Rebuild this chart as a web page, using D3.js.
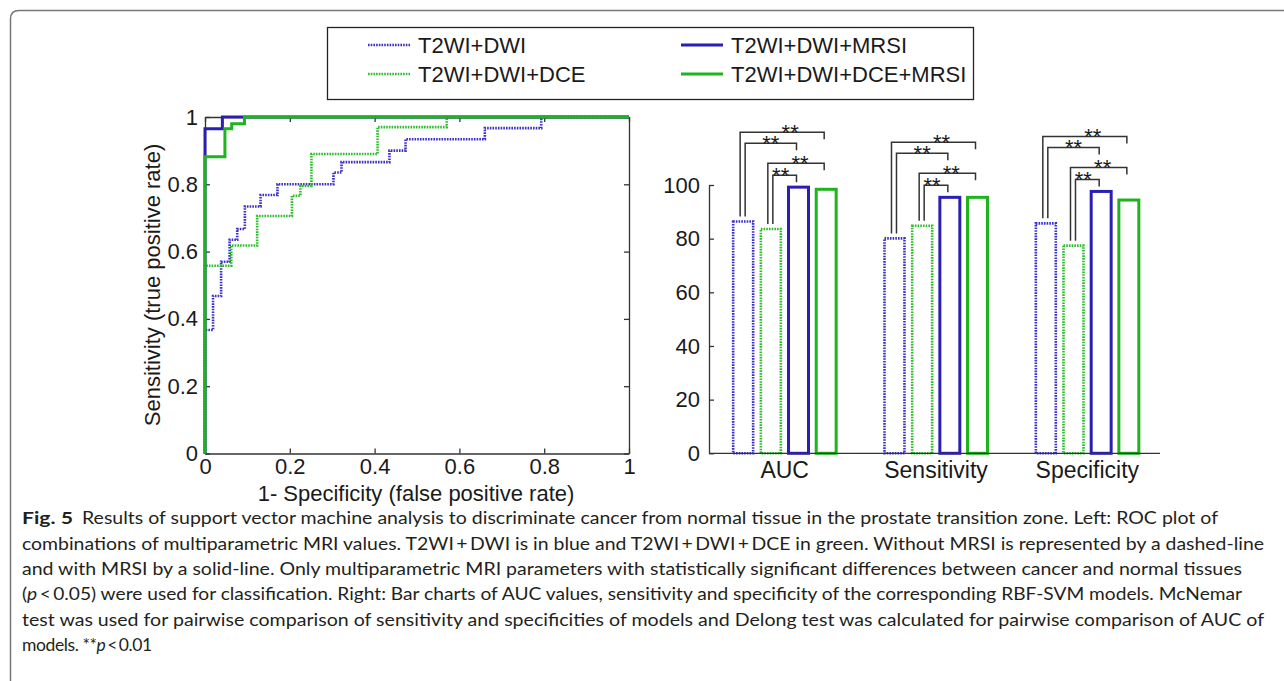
<!DOCTYPE html>
<html>
<head>
<meta charset="utf-8">
<script src="https://cdn.jsdelivr.net/npm/d3@7"></script>
<style>
  body { margin: 0; background: #fff; }
  svg text { font-family: "Liberation Sans", Arial, sans-serif; fill: #1a1a1a; }
  .caption text { font-family: Lato, "Open Sans", sans-serif; fill: #231f20; }
</style>
</head>
<body>
<svg id="fig" width="1284" height="681"></svg>
<script>
// ROC curves (1-specificity, sensitivity after each step)
const dwiFpr      = [0, 0, 0.019, 0.038, 0.058, 0.076, 0.094, 0.131, 0.171, 0.303, 0.322, 0.435, 0.473, 0.660, 0.793, 1];
const dwiTpr      = [0, 0.367, 0.468, 0.570, 0.635, 0.667, 0.734, 0.768, 0.800, 0.835, 0.866, 0.900, 0.934, 0.967, 1, 1];
const dceFpr      = [0, 0, 0.062, 0.123, 0.205, 0.225, 0.251, 0.407, 0.570, 1];
const dceTpr      = [0, 0.558, 0.618, 0.706, 0.766, 0.795, 0.890, 0.970, 1, 1];
const mrsiFpr     = [0, 0, 0.041, 1];
const mrsiTpr     = [0, 0.965, 1, 1];
const dceMrsiFpr  = [0, 0, 0.047, 0.063, 0.093, 1];
const dceMrsiTpr  = [0, 0.882, 0.965, 0.980, 1, 1];

const seriesNames = ['T2WI+DWI', 'T2WI+DWI+DCE', 'T2WI+DWI+MRSI', 'T2WI+DWI+DCE+MRSI'];

// bar chart: one value per series in each category
const barCategories = ['AUC', 'Sensitivity', 'Specificity'];
const aucValues  = [86.4, 83.6, 99.2, 98.4];
const sensValues = [80.1, 84.8, 95.4, 95.4];
const specValues = [85.7, 77.4, 97.6, 94.4];
const sigPairs   = [[0, 3], [0, 2], [1, 3], [1, 2]];   // all ** (p < 0.01)

const rocTicks = [0, 0.2, 0.4, 0.6, 0.8, 1];
const barTicks = [0, 20, 40, 60, 80, 100];

// styles
const colors = ['#3b30c8', '#2cbd2c', '#2a1fb2', '#1db41d'];
const dotted = [true, true, false, false];
const dash = '1.6,1.1';

const svg = d3.select('#fig');

// outer frame (open to the right and bottom)
svg.append('path')
  .attr('d', 'M10.5,681 V19 Q10.5,10.5 19,10.5 H1284')
  .attr('fill', 'none').attr('stroke', '#777').attr('stroke-width', 1.5);

/*************************************************************/
// ROC plot

const xr = d3.scaleLinear().domain([0, 1]).range([205, 629]);
const yr = d3.scaleLinear().domain([0, 1]).range([453.5, 117]);
const fmt = d3.format('~g');

const roc = svg.append('g').attr('class', 'roc');

function styleAxis(g) {
  g.selectAll('path, line').attr('stroke', '#333').attr('stroke-width', 1.3);
  g.selectAll('text').attr('font-size', 22).attr('fill', '#1a1a1a');
}

roc.append('g').attr('transform', 'translate(0,453.5)')
  .call(d3.axisBottom(xr).tickValues(rocTicks).tickFormat(fmt).tickSizeInner(-5).tickSizeOuter(0).tickPadding(5))
  .call(styleAxis);
roc.append('g').attr('transform', 'translate(0,117)')
  .call(d3.axisTop(xr).tickValues(rocTicks).tickFormat('').tickSizeInner(-5).tickSizeOuter(0))
  .call(styleAxis);
roc.append('g').attr('transform', 'translate(205,0)')
  .call(d3.axisLeft(yr).tickValues(rocTicks).tickFormat(fmt).tickSizeInner(-5).tickSizeOuter(0).tickPadding(7))
  .call(styleAxis);
roc.append('g').attr('transform', 'translate(629,0)')
  .call(d3.axisRight(yr).tickValues(rocTicks).tickFormat('').tickSizeInner(-5).tickSizeOuter(0))
  .call(styleAxis);

const rocLine = d3.line()
  .x(d => xr(d[0]))
  .y(d => yr(d[1]))
  .curve(d3.curveStepAfter);

const rocSeries = [
  d3.zip(dwiFpr, dwiTpr),
  d3.zip(dceFpr, dceTpr),
  d3.zip(mrsiFpr, mrsiTpr),
  d3.zip(dceMrsiFpr, dceMrsiTpr)
];

roc.selectAll('path.curve')
  .data(rocSeries)
  .join('path')
  .attr('class', 'curve')
  .attr('d', rocLine)
  .attr('fill', 'none')
  .attr('stroke', (d, i) => colors[i])
  .attr('stroke-width', (d, i) => dotted[i] ? 2.6 : 3)
  .attr('stroke-dasharray', (d, i) => dotted[i] ? dash : null);

roc.append('text')
  .attr('transform', 'translate(160,285) rotate(-90)')
  .attr('text-anchor', 'middle')
  .attr('font-size', 22)
  .text('Sensitivity (true positive rate)');

roc.append('text')
  .attr('x', 416).attr('y', 501)
  .attr('text-anchor', 'middle')
  .attr('font-size', 22)
  .text('1- Specificity (false positive rate)');

/*************************************************************/
// bar chart

const xb = d3.scaleBand().domain(barCategories).range([709, 1163]).padding(0);
const bw = xb.bandwidth();
const xs = d3.scaleBand().domain(d3.range(4)).range([(bw - 106) / 2, (bw + 106) / 2]).paddingInner(0.17);
const yb = d3.scaleLinear().domain([0, 100]).range([453.3, 185]);

const barValues = [aucValues, sensValues, specValues];
const bars = svg.append('g').attr('class', 'bars');

bars.append('g').attr('transform', 'translate(709,0)')
  .call(d3.axisLeft(yb).tickValues(barTicks).tickSizeInner(-5).tickSizeOuter(0).tickPadding(9))
  .call(styleAxis);

const groups = bars.selectAll('g.cat')
  .data(barCategories)
  .join('g')
  .attr('class', 'cat')
  .attr('transform', d => `translate(${xb(d)},0)`);

groups.selectAll('rect')
  .data((c, ci) => barValues[ci].map((v, i) => ({ v, i })))
  .join('rect')
  .attr('x', d => xs(d.i) + 1.5)
  .attr('width', xs.bandwidth() - 3)
  .attr('y', d => yb(d.v))
  .attr('height', d => yb(0) - yb(d.v))
  .attr('fill', '#fff')
  .attr('stroke', d => colors[d.i])
  .attr('stroke-width', d => dotted[d.i] ? 2.6 : 3)
  .attr('stroke-dasharray', d => dotted[d.i] ? dash : null);

bars.append('g').attr('transform', 'translate(0,453.3)')
  .call(d3.axisBottom(xb).tickSize(0).tickPadding(8))
  .call(g => g.select('.domain').attr('d', 'M709,0H1160'))
  .call(styleAxis)
  .call(g => g.selectAll('text').attr('font-size', 23));

// significance brackets (height above the tallest bar, star shift)
const levelOffset = { '0-3': 55, '0-2': 44, '1-3': 24, '1-2': 12 };
const starShift   = { '0-3': 8,  '0-2': 0,  '1-3': 4,  '1-2': -4 };
groups.each(function (c, ci) {
  const vals = barValues[ci];
  const top = yb(d3.max(vals));
  const g = d3.select(this);
  sigPairs.forEach(([a, b]) => {
    const key = a + '-' + b;
    const ly = top - levelOffset[key];
    const xa = xs(a) + xs.bandwidth() / 2 + (b === 3 ? -3 : 2);
    const xbR = xs(b) + xs.bandwidth() / 2 - 2;
    g.append('path')
      .attr('d', `M${xa},${yb(vals[a]) - 5}V${ly}H${xbR}V${ly + 7}`)
      .attr('fill', 'none').attr('stroke', '#333').attr('stroke-width', 1.5);
    g.append('text')
      .attr('x', (xa + xbR) / 2 + starShift[key]).attr('y', ly + 7.5)
      .attr('text-anchor', 'middle')
      .attr('font-size', 22)
      .text('**');
  });
});

/*************************************************************/
// legend

const legend = svg.append('g').attr('class', 'legend');
legend.append('rect')
  .attr('x', 327.5).attr('y', 27.5).attr('width', 646).attr('height', 72)
  .attr('fill', '#fff').attr('stroke', '#222').attr('stroke-width', 1.3);

const legPos = [[368, 45], [368, 74], [681, 45], [681, 74]];
seriesNames.forEach((name, i) => {
  const [lx, ly] = legPos[i];
  legend.append('line')
    .attr('x1', lx).attr('x2', lx + 42).attr('y1', ly).attr('y2', ly)
    .attr('stroke', colors[i])
    .attr('stroke-width', dotted[i] ? 2.6 : 3)
    .attr('stroke-dasharray', dotted[i] ? dash : null);
  legend.append('text')
    .attr('x', lx + 50).attr('y', ly + 8)
    .attr('font-size', 22)
    .text(name);
});

/*************************************************************/
// caption

const cap = svg.append('g').attr('class', 'caption').attr('font-size', 17.5);
const T = '\u2009';

cap.append('text').attr('x', 22).attr('y', 524)
  .attr('font-weight', 'bold').attr('textLength', 51).attr('lengthAdjust', 'spacingAndGlyphs')
  .text('Fig. 5');

const capLines = [
  { x: 82, y: 524, len: 1136, parts: [['Results of support vector machine analysis to discriminate cancer from normal tissue in the prostate transition zone. Left: ROC plot of']] },
  { x: 22, y: 550, len: 1242, parts: [[`combinations of multiparametric MRI values. T2WI${T}+${T}DWI is in blue and T2WI${T}+${T}DWI${T}+${T}DCE in green. Without MRSI is represented by a dashed-line`]] },
  { x: 22, y: 575, len: 1220, parts: [['and with MRSI by a solid-line. Only multiparametric MRI parameters with statistically significant differences between cancer and normal tissues']] },
  { x: 22, y: 600, len: 1220, parts: [['('], ['p', 'italic'], [`${T}<${T}0.05) were used for classification. Right: Bar charts of AUC values, sensitivity and specificity of the corresponding RBF-SVM models. McNemar`]] },
  { x: 22, y: 626, len: 1242, parts: [['test was used for pairwise comparison of sensitivity and specificities of models and Delong test was calculated for pairwise comparison of AUC of']] },
  { x: 22, y: 651, len: null, parts: [['models. **'], ['p', 'italic'], [`${T}<${T}0.01`]] }
];

capLines.forEach(l => {
  const t = cap.append('text').attr('x', l.x).attr('y', l.y);
  if (l.len) t.attr('textLength', l.len).attr('lengthAdjust', 'spacingAndGlyphs');
  else t.attr('letter-spacing', -0.4);
  l.parts.forEach(([s, style]) => {
    t.append('tspan').attr('font-style', style || null).text(s);
  });
});
</script>
</body>
</html>
